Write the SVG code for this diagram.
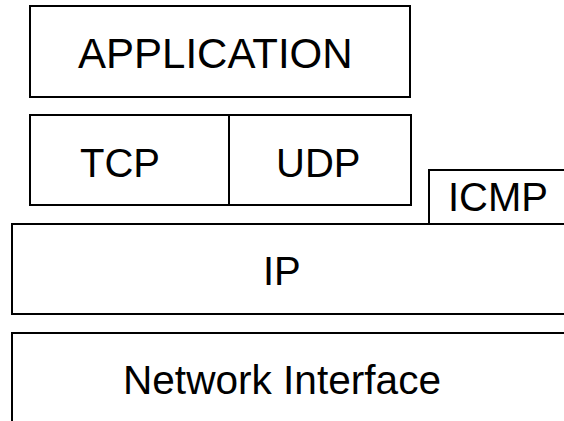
<svg xmlns="http://www.w3.org/2000/svg" width="564" height="421" viewBox="0 0 564 421">
<style>
.box{fill:#fff;stroke:#000;stroke-width:2}
.lbl{font-family:"Liberation Sans",Arial,sans-serif;font-size:40px;fill:#000}
</style>
<rect width="564" height="421" fill="#fff"/>
<g id="application">
<rect class="box" x="30" y="6" width="380" height="91"/>
<text class="lbl" x="78" y="68" style="font-size:42px">APPLICATION</text>
</g>
<g id="tcp">
<rect class="box" x="30" y="115" width="199" height="90"/>
<text class="lbl" x="80" y="177">TCP</text>
</g>
<g id="udp">
<rect class="box" x="229" y="115" width="182" height="90"/>
<text class="lbl" x="276" y="177">UDP</text>
</g>
<g id="icmp">
<rect class="box" x="429" y="170" width="150" height="54"/>
<text class="lbl" x="448" y="211">ICMP</text>
</g>
<g id="ip">
<rect class="box" x="12" y="224" width="570" height="90"/>
<text class="lbl" x="263" y="285">IP</text>
</g>
<g id="network-interface">
<rect class="box" x="12" y="333" width="570" height="100"/>
<text class="lbl" x="123" y="394" style="font-size:40.6px">Network Interface</text>
</g>
<g id="connectors"/>
</svg>
